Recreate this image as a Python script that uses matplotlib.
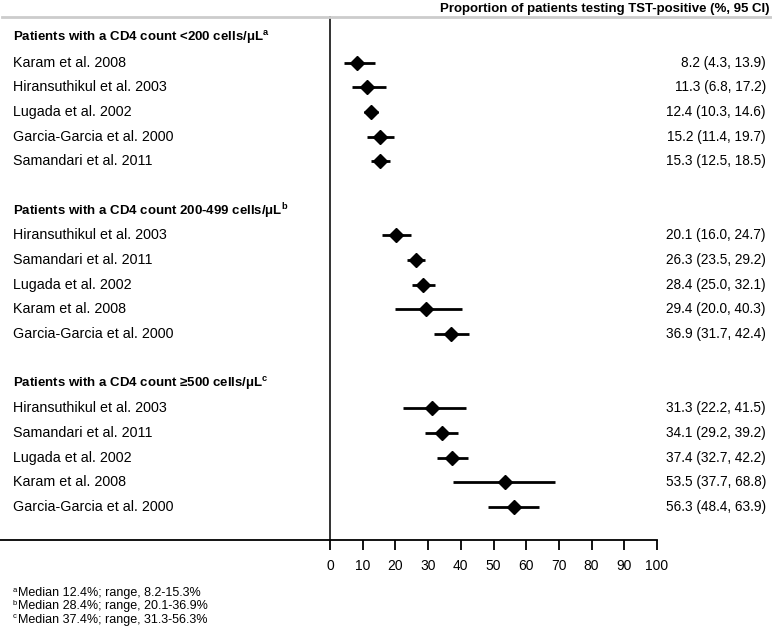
import matplotlib
matplotlib.use("Agg")
import matplotlib.pyplot as plt
from matplotlib.transforms import blended_transform_factory

plt.rcParams['font.family'] = ['Liberation Sans', 'DejaVu Sans']
plt.rcParams['mathtext.fontset'] = 'custom'
plt.rcParams['mathtext.rm'] = 'Liberation Sans'

# data
headers = ["Patients with a CD4 count <200 cells/\u03bcL",
           "Patients with a CD4 count 200-499 cells/\u03bcL",
           "Patients with a CD4 count \u2265500 cells/\u03bcL"]
header_marks = ["a", "b", "c"]

names_1 = ["Karam et al. 2008", "Hiransuthikul et al. 2003", "Lugada et al. 2002",
           "Garcia-Garcia et al. 2000", "Samandari et al. 2011"]
est_1 = [8.2, 11.3, 12.4, 15.2, 15.3]
lo_1 = [4.3, 6.8, 10.3, 11.4, 12.5]
hi_1 = [13.9, 17.2, 14.6, 19.7, 18.5]

names_2 = ["Hiransuthikul et al. 2003", "Samandari et al. 2011", "Lugada et al. 2002",
           "Karam et al. 2008", "Garcia-Garcia et al. 2000"]
est_2 = [20.1, 26.3, 28.4, 29.4, 36.9]
lo_2 = [16.0, 23.5, 25.0, 20.0, 31.7]
hi_2 = [24.7, 29.2, 32.1, 40.3, 42.4]

names_3 = ["Hiransuthikul et al. 2003", "Samandari et al. 2011", "Lugada et al. 2002",
           "Karam et al. 2008", "Garcia-Garcia et al. 2000"]
est_3 = [31.3, 34.1, 37.4, 53.5, 56.3]
lo_3 = [22.2, 29.2, 32.7, 37.7, 48.4]
hi_3 = [41.5, 39.2, 42.2, 68.8, 63.9]

footnotes = ["Median 12.4%; range, 8.2-15.3%",
             "Median 28.4%; range, 20.1-36.9%",
             "Median 37.4%; range, 31.3-56.3%"]

xticks = list(range(0, 101, 10))

groups = [(names_1, est_1, lo_1, hi_1),
          (names_2, est_2, lo_2, hi_2),
          (names_3, est_3, lo_3, hi_3)]

W, H = 772, 640
fig = plt.figure(figsize=(W / 100, H / 100), dpi=100)
ax = fig.add_axes([330 / W, 1 - 540 / H, (657 - 330) / W, (540 - 17) / H])
ax.set_xlim(0, 100)
ax.set_ylim(20.34, -0.85)

lbl = blended_transform_factory(fig.transFigure, ax.transData)
fs = 9.5

row = 0
for g, (names, est, lo, hi) in enumerate(groups):
    fig.text(13 / W, row, headers[g] + r"$^{\mathregular{%s}}$" % header_marks[g],
             transform=lbl, fontsize=fs, fontweight='bold', va='center', ha='left')
    row += 1
    for n, e, l, h in zip(names, est, lo, hi):
        ax.plot([l, h], [row, row], color='black', lw=2, solid_capstyle='butt', zorder=2)
        ax.plot(e, row, marker='D', ms=7, color='black', zorder=3)
        fig.text(13 / W, row, n, transform=lbl, fontsize=10.3, va='center', ha='left')
        fig.text(766 / W, row, "{} ({}, {})".format(e, l, h), transform=lbl,
                 fontsize=9.8, va='center', ha='right')
        row += 1
    row += 1

# axes styling
for s in ['top', 'right']:
    ax.spines[s].set_visible(False)
ax.spines['left'].set_color('#222222')
ax.spines['left'].set_linewidth(1.3)
ax.spines['bottom'].set_linewidth(1.3)
ax.set_yticks([])
ax.set_xticks(xticks)
ax.tick_params(axis='x', length=7.5, width=1.3, direction='out', pad=6, labelsize=10)
# bottom line runs across the label area too
ax.plot([-330 / 327, 0], [0, 0], transform=ax.transAxes, color='black', lw=1.3,
        clip_on=False)

# header rule and title
fig.add_artist(plt.Line2D([0.003, 1], [1 - 17 / H, 1 - 17 / H], color='#cccccc', lw=2))
fig.text(770 / W, 1 - 9 / H, "Proportion of patients testing TST-positive (%, 95 CI)",
         fontsize=fs, fontweight='bold', ha='right', va='center')

for i, (mark, note) in enumerate(zip(header_marks, footnotes)):
    y = 1 - (593 + 13.5 * i) / H
    fig.text(13 / W, y + 3 / H, mark, fontsize=5.5, ha='left', va='center')
    fig.text(18 / W, y, note, fontsize=9, ha='left', va='center')

fig.savefig("out.png", dpi=100)
